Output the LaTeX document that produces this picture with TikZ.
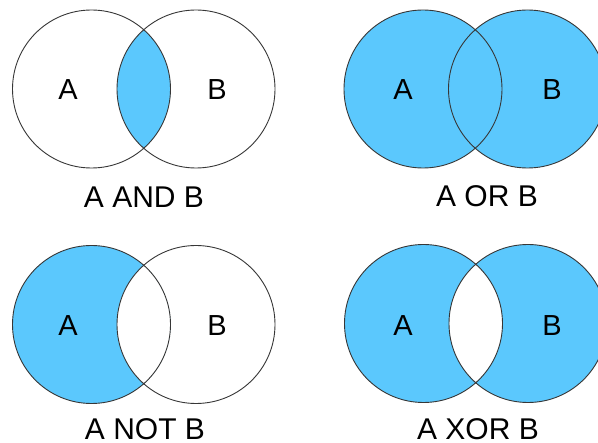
\documentclass[tikz,border=0pt]{standalone}
\usepackage{fontspec}
\setmainfont{Liberation Sans}
\definecolor{setblue}{RGB}{91,200,253}
\definecolor{rim}{RGB}{55,55,55}
\begin{document}
\begin{tikzpicture}[x=1pt,y=-1pt,
  rim/.style={draw=rim,line width=0.9pt},
  setfill/.style={fill=setblue},
  setname/.style={font=\fontsize{29}{31}\selectfont,inner sep=0pt,anchor=center},
  caption/.style={font=\fontsize{30}{32}\selectfont,inner sep=0pt,anchor=center}]
\useasboundingbox (0,0) rectangle (598,443);
\clip (0,0) rectangle (598,443);
\fill[white] (0,0) rectangle (598,443);

% A AND B: only the lens is filled
\begin{scope}
  \clip (91.5,89) circle[radius=79pt];
  \fill[setfill] (196,89) circle[radius=79pt];
\end{scope}
\draw[rim] (91.5,89) circle[radius=79pt] (196,89) circle[radius=79pt];
\node[setname] (andA) at (68,90) {A};
\node[setname] (andB) at (217,90) {B};
\node[caption] (andcap) at (144,197) {A AND B};

% A OR B: both discs filled
\fill[setfill] (423,89) circle[radius=79pt] (527.5,89) circle[radius=79pt];
\draw[rim] (423,89) circle[radius=79pt] (527.5,89) circle[radius=79pt];
\node[setname] (orA) at (403,90) {A};
\node[setname] (orB) at (552,90) {B};
\node[caption] (orcap) at (487,196) {A OR B};

% A NOT B: disc A with the lens left white
\fill[setfill] (91.5,324.5) circle[radius=79pt];
\begin{scope}
  \clip (196,324.5) circle[radius=79pt];
  \fill[white] (91.5,324.5) circle[radius=79pt];
\end{scope}
\draw[rim] (91.5,324.5) circle[radius=79pt] (196,324.5) circle[radius=79pt];
\node[setname] (notA) at (68,326) {A};
\node[setname] (notB) at (217,326) {B};
\node[caption] (notcap) at (145,429) {A NOT B};

% A XOR B: both discs without the lens
\fill[setfill,even odd rule] (423.5,323.5) circle[radius=79pt]
  (528,323.5) circle[radius=79pt];
\draw[rim] (423.5,323.5) circle[radius=79pt] (528,323.5) circle[radius=79pt];
\node[setname] (xorA) at (403,326) {A};
\node[setname] (xorB) at (552,326) {B};
\node[caption] (xorcap) at (478,429) {A XOR B};
\end{tikzpicture}
\end{document}
